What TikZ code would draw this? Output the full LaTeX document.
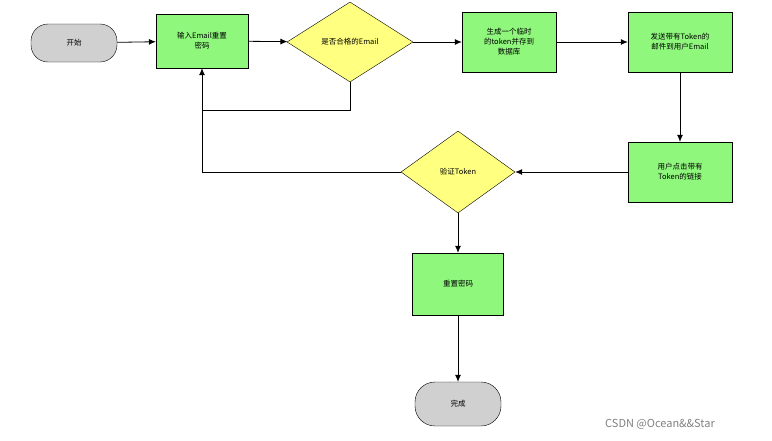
\documentclass[tikz,border=0pt]{standalone}
\usepackage{fontspec}
\setmainfont{Noto Sans CJK SC}
\usetikzlibrary{shapes.geometric,arrows.meta}
\definecolor{gr}{HTML}{8EF77C}
\definecolor{ye}{HTML}{FFFF80}
\definecolor{gy}{HTML}{D0D0D0}
\begin{document}
\begin{tikzpicture}[x=1pt,y=-1pt,font=\fontsize{7.5}{10}\selectfont,
 box/.style={draw,fill=gr,minimum width=92pt,minimum height=58pt,align=center,text width=84pt},
 dia/.style={draw,fill=ye,diamond,aspect=1.55,inner sep=1pt,align=center},
 pill/.style={draw,fill=gy,rounded corners=17pt,minimum width=86pt,minimum height=38pt},
 line/.style={draw,line width=0.8pt},
 arr/.style={line,-{Latex[length=7pt,width=6pt]}}]
\useasboundingbox (0,0) rectangle (772,440);
\node[pill] (start) at (74,43) {开始};
\node[box,minimum width=92pt,minimum height=54pt] (input) at (202,41) {输入Email重置\\密码};
\node[dia,minimum width=126pt,minimum height=80pt] (ok) at (350,42) {是否合格的Email};
\node[box,minimum width=94pt,minimum height=60pt,text width=76pt] (gen) at (509,42) {生成一个临时\\的token并存到\\数据库};
\node[box,minimum width=104pt,minimum height=60pt] (send) at (680,42) {发送带有Token的\\邮件到用户Email};
\node[box,minimum width=104pt,minimum height=60pt] (click) at (680,172) {用户点击带有\\Token的链接};
\node[dia,minimum width=114pt,minimum height=82pt] (ver) at (458,172) {验证Token};
\node[box,minimum width=86pt,minimum height=62pt] (reset) at (458,284) {重置密码};
\node[pill,minimum height=44pt,rounded corners=20pt] (done) at (458,404) {完成};
\node[text=gray,font=\fontsize{11}{13}\selectfont] (wm) at (660,424) {CSDN @Ocean\&\&Star};
\coordinate (j) at (202,110);
\draw[arr] (start) -- (input);
\draw[arr] (input) -- (ok);
\draw[arr] (ok) -- (gen);
\draw[arr] (gen) -- (send);
\draw[arr] (send) -- (click);
\draw[arr] (click) -- (ver);
\draw[arr] (ver.west) -| (input.south);
\draw[line] (ok.south) |- (j);
\draw[arr] (ver) -- (reset);
\draw[arr] (reset) -- (done);
\end{tikzpicture}
\end{document}
